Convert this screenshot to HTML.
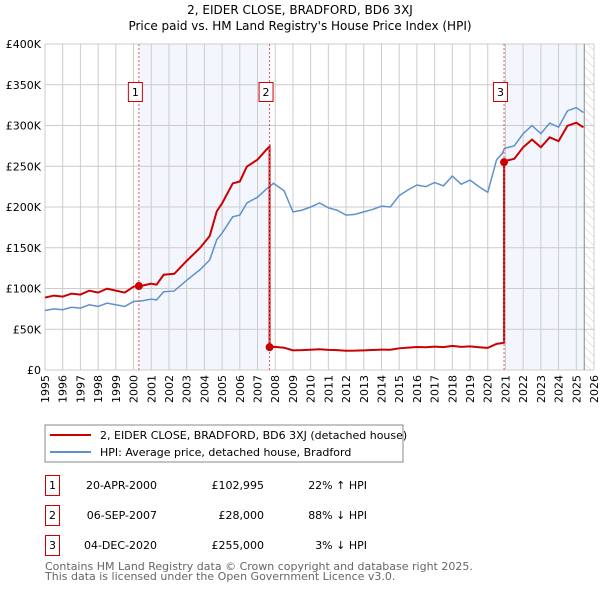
<!DOCTYPE html>
<html><head><meta charset="utf-8"><style>
body{margin:0;background:#fff;font-family:"DejaVu Sans","Liberation Sans",sans-serif;}
svg text{font-family:"DejaVu Sans","Liberation Sans",sans-serif;}
</style></head><body>
<svg id="c" width="600" height="590" xmlns="http://www.w3.org/2000/svg">
<defs><pattern id="hatch" width="6" height="6" patternUnits="userSpaceOnUse" patternTransform="rotate(-45)"><line x1="0" y1="0" x2="0" y2="6" stroke="#ccc" stroke-width="1"/></pattern></defs>
<text x="300" y="14" font-size="12" text-anchor="middle">2, EIDER CLOSE, BRADFORD, BD6 3XJ</text>
<text x="300" y="30" font-size="12" text-anchor="middle">Price paid vs. HM Land Registry's House Price Index (HPI)</text>
<g id="plot"></g>
<rect x="45" y="425" width="358" height="37" fill="#fff" stroke="#888"/>
<line x1="50" y1="435" x2="91" y2="435" stroke="#cc0000" stroke-width="2"/>
<text x="100" y="439" font-size="11">2, EIDER CLOSE, BRADFORD, BD6 3XJ (detached house)</text>
<line x1="50" y1="452" x2="91" y2="452" stroke="#6090d0" stroke-width="2"/>
<text x="100" y="456" font-size="11">HPI: Average price, detached house, Bradford</text>
<g font-size="11">
<rect x="45.5" y="475.5" width="14" height="20" fill="none" stroke="#cc0000"/><text x="52.5" y="489" text-anchor="middle">1</text>
<text x="157" y="489" text-anchor="end">20-APR-2000</text><text x="264" y="489" text-anchor="end">£102,995</text><text x="367" y="489" text-anchor="end">22% ↑ HPI</text>
<rect x="45.5" y="505.5" width="14" height="20" fill="none" stroke="#cc0000"/><text x="52.5" y="519" text-anchor="middle">2</text>
<text x="157" y="519" text-anchor="end">06-SEP-2007</text><text x="264" y="519" text-anchor="end">£28,000</text><text x="367" y="519" text-anchor="end">88% ↓ HPI</text>
<rect x="45.5" y="535.5" width="14" height="20" fill="none" stroke="#cc0000"/><text x="52.5" y="549" text-anchor="middle">3</text>
<text x="157" y="549" text-anchor="end">04-DEC-2020</text><text x="264" y="549" text-anchor="end">£255,000</text><text x="367" y="549" text-anchor="end">3% ↓ HPI</text>
</g>
<text x="45" y="570" font-size="11" fill="#666">Contains HM Land Registry data © Crown copyright and database right 2025.</text>
<text x="45" y="580" font-size="11" fill="#666">This data is licensed under the Open Government Licence v3.0.</text>
</svg>
<script>
const hpiYears=[1995,1995.5,1996,1996.5,1997,1997.5,1998,1998.5,1999,1999.5,2000,2000.5,2001,2001.3,2001.7,2002.3,2003,2003.75,2004.3,2004.7,2005,2005.6,2006,2006.4,2007,2007.5,2007.9,2008.5,2009,2009.5,2010,2010.5,2011,2011.5,2012,2012.5,2013,2013.5,2014,2014.5,2015,2015.5,2016,2016.5,2017,2017.5,2018,2018.5,2019,2019.5,2020,2020.5,2020.8,2020.95,2021.5,2022,2022.5,2023,2023.5,2024,2024.5,2025,2025.4];
const hpiValues=[73,75,74,77,76,80,78,82,80,78,84,85,87,86,96,97,110,123,135,160,168,188,190,205,212,222,229,220,194,196,200,205,199,196,190,191,194,197,201,200,214,221,227,225,230,226,238,228,233,225,218,258,265,272,275,290,300,290,303,298,318,322,316];
const saleYears=[2000.3,2007.68,2020.92];
const salePrices=[102.995,28,255];
const saleLabels=["1","2","3"];
const yTicks=[0,50,100,150,200,250,300,350,400];
const yTickLabels=["£0","£50K","£100K","£150K","£200K","£250K","£300K","£350K","£400K"];
const xTicks=[1995,1996,1997,1998,1999,2000,2001,2002,2003,2004,2005,2006,2007,2008,2009,2010,2011,2012,2013,2014,2015,2016,2017,2018,2019,2020,2021,2022,2023,2024,2025,2026];
const dataEnd=2025.45;
const X0=45,X1=594,Y0=370,Y1=44;
const xs=y=>X0+(y-1995)/(2026-1995)*(X1-X0);
const ys=v=>Y0-v/400*(Y0-Y1);
const NS="http://www.w3.org/2000/svg";
const g=document.getElementById('plot');
function mk(t,a,p){const e=document.createElementNS(NS,t);for(const k in a)e.setAttribute(k,a[k]);(p||g).appendChild(e);return e;}
function hpiAt(t){for(let i=0;i<hpiYears.length-1;i++){if(t<=hpiYears[i+1]){const f=(t-hpiYears[i])/(hpiYears[i+1]-hpiYears[i]);return hpiValues[i]+f*(hpiValues[i+1]-hpiValues[i]);}}return hpiValues[hpiValues.length-1];}
let r=mk('rect',{x:xs(saleYears[0]),y:Y1,width:xs(saleYears[1])-xs(saleYears[0]),height:Y0-Y1,fill:'#eef3fc',opacity:0.7});


r=mk('rect',{x:xs(saleYears[2]),y:Y1,width:xs(dataEnd)-xs(saleYears[2]),height:Y0-Y1,fill:'#eef3fc',opacity:0.7});


r=mk('rect',{x:xs(dataEnd),y:Y1,width:X1-xs(dataEnd),height:Y0-Y1,fill:'url(#hatch)'});


yTicks.forEach((v,i)=>{
 const l=mk('line',{x1:X0,x2:X1,y1:ys(v),y2:ys(v),stroke:'#ccc'});
 
 
 const t=mk('text',{x:X0-4,y:ys(v)+4,'font-size':11,'text-anchor':'end'});t.textContent=yTickLabels[i];
 
 
});
xTicks.forEach(y=>{
 const l=mk('line',{x1:xs(y),x2:xs(y),y1:Y1,y2:Y0,stroke:'#ccc'});
 
 
 const t=mk('text',{x:0,y:0,'font-size':11,'text-anchor':'end',transform:`translate(${xs(y)+4},${Y0+5}) rotate(-90)`});t.textContent=y;
 
 
});
let b=mk('line',{x1:xs(dataEnd),x2:xs(dataEnd),y1:Y1,y2:Y0,stroke:'#888'});


let pts=hpiYears.map((y,i)=>xs(y)+','+ys(hpiValues[i])).join(' ');
let hl=mk('polyline',{points:pts,fill:'none',stroke:'#6090d0','stroke-width':1.5});


let pp=[];
const ratioAt=t=>{let k=0;for(let i=0;i<saleYears.length;i++)if(t>=saleYears[i])k=i;return salePrices[k]/hpiAt(saleYears[k]);};
const ts=[...hpiYears,...saleYears].filter(t=>t<=dataEnd).sort((a,b)=>a-b);
ts.forEach(t=>{
 saleYears.forEach((s,i)=>{if(Math.abs(t-s)<1e-9&&i>0){pp.push(xs(t)+','+ys(hpiAt(t)*salePrices[i-1]/hpiAt(saleYears[i-1])));}});
 pp.push(xs(t)+','+ys(hpiAt(t)*ratioAt(t)));
});
let pl=mk('polyline',{points:pp.join(' '),fill:'none',stroke:'#cc0000','stroke-width':2});


saleYears.forEach((s,i)=>{
 const v=mk('line',{x1:xs(s),x2:xs(s),y1:Y1,y2:Y0,stroke:'#ee5555','stroke-dasharray':'2,2','stroke-width':1});
 
 
 const d=mk('circle',{cx:xs(s),cy:ys(salePrices[i]),r:4,fill:'#cc0000'});
 
 
 const bx=mk('rect',{x:xs(s)-10.5,y:82.5,width:14,height:19,fill:'#fff',stroke:'#cc0000'});
 
 
 const t=mk('text',{x:xs(s)-3.5,y:96,'font-size':11,'text-anchor':'middle'});t.textContent=saleLabels[i];
 
 
});
</script>
</body></html>
